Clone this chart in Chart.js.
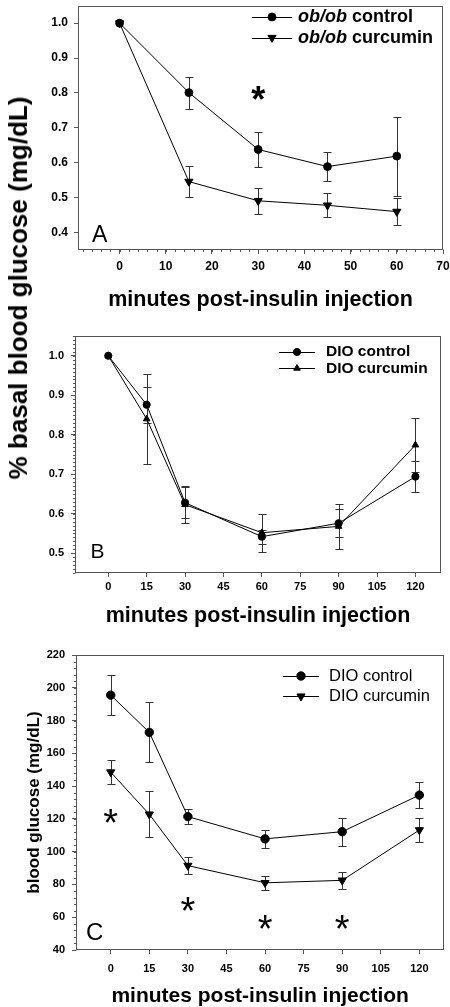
<!DOCTYPE html>
<html lang="en">
<head>
<meta charset="UTF-8" />
<title>Insulin tolerance</title>
<script src="https://cdn.jsdelivr.net/npm/chart.js"></script>
<style>
  body { margin: 0; background: #fff; }
  .page { position: relative; width: 450px; height: 1007px; overflow: hidden; font-family: "Liberation Sans", Arial, sans-serif; }
  canvas { position: absolute; left: 0; }
  #chartA { top: 0; }
  #chartB { top: 326px; }
  #chartC { top: 640px; }
  .ytitle {
    position: absolute; left: 18px; top: 288px;
    transform: translate(-50%, -50%) rotate(-90deg);
    font-weight: bold; font-size: 26px; line-height: 1;
    white-space: nowrap; color: #000;
  }
</style>
</head>
<body>
<div class="page">
  <canvas id="chartA" width="450" height="326"></canvas>
  <canvas id="chartB" width="450" height="314"></canvas>
  <canvas id="chartC" width="450" height="367"></canvas>
  <div class="ytitle">% basal blood glucose (mg/dL)</div>
</div>

<script>
  // panel A - ob/ob mice, fraction of basal glucose
  const timesA = [0, 15, 30, 45, 60];
  const obControl = [1.0, 0.801, 0.638, 0.589, 0.619];
  const obControlErr = [0, 0.046, 0.051, 0.042, 0.113];
  const obCurcumin = [1.0, 0.546, 0.491, 0.478, 0.460];
  const obCurcuminErr = [0, 0.044, 0.037, 0.034, 0.039];
  const starAx = [30];
  const starAy = [0.801];
  const ticksAx = [0, 10, 20, 30, 40, 50, 60, 70];
  const ticksAy = [0.4, 0.5, 0.6, 0.7, 0.8, 0.9, 1.0];

  // panel B - DIO mice, fraction of basal glucose
  const timesB = [0, 15, 30, 60, 90, 120];
  const dioControlB = [1.0, 0.876, 0.628, 0.542, 0.576, 0.694];
  const dioControlBErr = [0, 0.045, 0.040, 0.018, 0.035, 0.040];
  const dioCurcuminB = [1.0, 0.840, 0.623, 0.552, 0.568, 0.774];
  const dioCurcuminBErr = [0, 0.115, 0.047, 0.048, 0.056, 0.068];
  const ticksBx = [0, 15, 30, 45, 60, 75, 90, 105, 120];
  const ticksBy = [0.5, 0.6, 0.7, 0.8, 0.9, 1.0];

  // panel C - DIO mice, absolute glucose
  const timesC = [0, 15, 30, 60, 90, 120];
  const dioControlC = [195.5, 172.8, 121.4, 107.8, 112.2, 134.5];
  const dioControlCErr = [12, 18.3, 4.8, 5.5, 8.5, 7.8];
  const dioCurcuminC = [148.5, 122.8, 91.5, 81.0, 82.5, 113.2];
  const dioCurcuminCErr = [7.2, 14.1, 5.4, 4.4, 5.3, 7.2];
  const starCx = [0, 30, 60, 90];
  const starCy = [122, 68, 57.3, 57.3];
  const ticksCx = [0, 15, 30, 45, 60, 75, 90, 105, 120];
  const ticksCy = [40, 60, 80, 100, 120, 140, 160, 180, 200, 220];

  const FONT = '"Liberation Sans", Arial, sans-serif';
  const AXIS = '#555';
  Chart.defaults.font.family = FONT;
  Chart.defaults.color = '#000';

  const pts = (xs, ys) => xs.map((x, i) => ({ x: x, y: ys[i] }));

  function series(label, xs, ys, errs, style, r, rot) {
    return {
      label: label,
      data: pts(xs, ys),
      errors: errs,
      borderColor: '#000',
      borderWidth: 1,
      tension: 0,
      fill: false,
      pointStyle: style,
      pointRadius: r,
      pointRotation: rot || 0,
      pointBackgroundColor: '#000',
      pointBorderColor: '#000',
      pointBorderWidth: 1,
      clip: false
    };
  }

  // error bars drawn under the lines and markers
  const errorBars = {
    id: 'errorBars',
    beforeDatasetsDraw(chart) {
      const { ctx, scales: { x, y } } = chart;
      ctx.save();
      ctx.strokeStyle = '#333';
      ctx.lineWidth = 1;
      chart.data.datasets.forEach(ds => {
        ds.data.forEach((p, i) => {
          const e = ds.errors[i];
          if (!e) return;
          const px = Math.round(x.getPixelForValue(p.x)) + 0.5;
          const top = Math.round(y.getPixelForValue(p.y + e)) + 0.5;
          const bot = Math.round(y.getPixelForValue(p.y - e)) + 0.5;
          ctx.beginPath();
          ctx.moveTo(px, top); ctx.lineTo(px, bot);
          ctx.moveTo(px - 4, top); ctx.lineTo(px + 4, top);
          ctx.moveTo(px - 4, bot); ctx.lineTo(px + 4, bot);
          ctx.stroke();
        });
      });
      ctx.restore();
    }
  };

  // box around the plot area plus minor tick marks
  function framePlugin(minorX, minorY) {
    return {
      id: 'frame',
      afterDraw(chart) {
        const { ctx, chartArea: a, scales: { x, y } } = chart;
        ctx.save();
        ctx.strokeStyle = AXIS;
        ctx.lineWidth = 1;
        const l = Math.round(a.left) + 0.5, r = Math.round(a.right) - 0.5;
        const t = Math.round(a.top) + 0.5, b = Math.round(a.bottom) - 0.5;
        ctx.strokeRect(l, t, r - l, b - t);
        ctx.beginPath();
        if (minorX) {
          for (let k = Math.ceil(x.min / minorX); k * minorX <= x.max; k++) {
            const px = Math.round(x.getPixelForValue(k * minorX)) + 0.5;
            ctx.moveTo(px, b); ctx.lineTo(px, b + 2.5);
          }
        }
        if (minorY) {
          for (let k = Math.ceil(y.min / minorY - 1e-6); k * minorY <= y.max + 1e-9; k++) {
            const py = Math.round(y.getPixelForValue(k * minorY)) + 0.5;
            ctx.moveTo(l, py); ctx.lineTo(l - 2.5, py);
          }
        }
        ctx.stroke();
        ctx.restore();
      }
    };
  }

  // panel letter, significance stars and the line+marker legend
  function annotations(cfg) {
    return {
      id: 'annotations',
      afterDatasetsDraw(chart) {
        const { ctx, chartArea: a, scales: { x, y } } = chart;
        ctx.save();
        ctx.fillStyle = '#000';
        ctx.strokeStyle = '#000';

        ctx.font = cfg.letterFont;
        ctx.textAlign = 'left';
        ctx.textBaseline = 'alphabetic';
        ctx.fillText(cfg.letter, a.left + cfg.letterDx, a.bottom - cfg.letterDy);

        ctx.font = cfg.starFont;
        ctx.textAlign = 'center';
        const m = ctx.measureText('*');
        const shift = (m.actualBoundingBoxAscent - m.actualBoundingBoxDescent) / 2;
        cfg.starX.forEach((sx, i) => {
          ctx.fillText('*', x.getPixelForValue(sx), y.getPixelForValue(cfg.starY[i]) + shift);
        });

        const lg = cfg.legend;
        ctx.textAlign = 'left';
        ctx.textBaseline = 'middle';
        chart.data.datasets.forEach((ds, i) => {
          const ly = lg.top + i * lg.gap;
          ctx.lineWidth = 1;
          ctx.beginPath();
          ctx.moveTo(lg.x1, Math.round(ly) + 0.5);
          ctx.lineTo(lg.x2, Math.round(ly) + 0.5);
          ctx.stroke();
          Chart.helpers.drawPoint(ctx, {
            pointStyle: ds.pointStyle, radius: ds.pointRadius,
            rotation: ds.pointRotation, borderWidth: 1
          }, (lg.x1 + lg.x2) / 2, ly);
          let tx = lg.textX;
          lg.labels[i].forEach(seg => {
            ctx.font = (seg.italic ? 'italic ' : '') + lg.font;
            ctx.fillText(seg.text, tx, ly);
            tx += ctx.measureText(seg.text).width;
          });
        });
        ctx.restore();
      }
    };
  }

  function xAxis(c) {
    return {
      type: 'linear', min: c.min, max: c.max,
      afterBuildTicks: s => { s.ticks = c.ticks.map(v => ({ value: v })); },
      afterFit: s => { s.height = c.height; s.paddingLeft = 0; s.paddingRight = 0; },
      grid: { drawOnChartArea: false, drawTicks: true, tickLength: 4, tickColor: AXIS },
      border: { display: false },
      ticks: { font: c.font, color: '#000', padding: c.pad, autoSkip: false, maxRotation: 0 },
      title: {
        display: true, text: 'minutes post-insulin injection', color: '#000',
        font: c.titleFont, padding: { top: 0, bottom: c.titlePad }
      }
    };
  }

  function yAxis(c) {
    return {
      type: 'linear', min: c.min, max: c.max,
      afterBuildTicks: s => { s.ticks = c.ticks.map(v => ({ value: v })); },
      afterFit: s => { s.width = c.width; s.paddingTop = 0; s.paddingBottom = 0; },
      grid: { drawOnChartArea: false, drawTicks: true, tickLength: 4, tickColor: AXIS },
      border: { display: false },
      ticks: {
        font: c.font, color: '#000', padding: c.pad, autoSkip: false,
        callback: c.format
      },
      title: c.title || { display: false }
    };
  }

  function makeChart(id, datasets, padding, x, y, plugins) {
    return new Chart(document.getElementById(id), {
      type: 'line',
      data: { datasets: datasets },
      options: {
        responsive: false,
        animation: false,
        devicePixelRatio: 1,
        events: [],
        layout: { padding: padding },
        plugins: { legend: { display: false }, tooltip: { enabled: false } },
        scales: { x: x, y: y }
      },
      plugins: plugins
    });
  }

  // ---- A ----
  makeChart('chartA', [
    series('ob/ob control', timesA, obControl, obControlErr, 'circle', 3.9),
    series('ob/ob curcumin', timesA, obCurcumin, obCurcuminErr, 'triangle', 4.7, 180)
  ], { left: 0, top: 1, right: 7, bottom: 0 },
  xAxis({ min: -9, max: 70, ticks: ticksAx, height: 76, pad: 5,
          font: { size: 12, weight: 'bold' },
          titleFont: { size: 21.5, weight: 'bold', lineHeight: 1 }, titlePad: 15 }),
  yAxis({ min: 0.35, max: 1.05, ticks: ticksAy, width: 78, pad: 6,
          font: { size: 12, weight: 'bold' }, format: v => v.toFixed(1) }),
  [errorBars, framePlugin(2, 0), annotations({
    letter: 'A', letterFont: '23px ' + FONT, letterDx: 14, letterDy: 8,
    starFont: 'bold 36px ' + FONT, starX: starAx, starY: starAy,
    legend: {
      x1: 252, x2: 292, textX: 298, top: 17, gap: 20.7, font: 'bold 18px ' + FONT,
      labels: [
        [{ text: 'ob/ob', italic: true }, { text: ' control' }],
        [{ text: 'ob/ob', italic: true }, { text: ' curcumin' }]
      ]
    }
  })]);

  // ---- B ----
  makeChart('chartB', [
    series('DIO control', timesB, dioControlB, dioControlBErr, 'circle', 3.6),
    series('DIO curcumin', timesB, dioCurcuminB, dioCurcuminBErr, 'triangle', 3.8)
  ], { left: 0, top: 10, right: 9, bottom: 0 },
  xAxis({ min: -13, max: 130, ticks: ticksBx, height: 67, pad: 3,
          font: { size: 11, weight: 'bold' },
          titleFont: { size: 21.5, weight: 'bold', lineHeight: 1 }, titlePad: 13 }),
  yAxis({ min: 0.45, max: 1.05, ticks: ticksBy, width: 75, pad: 7,
          font: { size: 11, weight: 'bold' }, format: v => v.toFixed(1) }),
  [errorBars, framePlugin(0, 0.01), annotations({
    letter: 'B', letterFont: '21px ' + FONT, letterDx: 15.5, letterDy: 15,
    starFont: 'bold 36px ' + FONT, starX: [], starY: [],
    legend: {
      x1: 279, x2: 315, textX: 326, top: 26, gap: 16.3, font: 'bold 15.5px ' + FONT,
      labels: [[{ text: 'DIO control' }], [{ text: 'DIO curcumin' }]]
    }
  })]);

  // ---- C ----
  makeChart('chartC', [
    series('DIO control', timesC, dioControlC, dioControlCErr, 'circle', 4.2),
    series('DIO curcumin', timesC, dioCurcuminC, dioCurcuminCErr, 'triangle', 4.7, 180)
  ], { left: 0, top: 15, right: 2, bottom: 0 },
  xAxis({ min: -13.5, max: 129.7, ticks: ticksCx, height: 57, pad: 8,
          font: { size: 11, weight: 'bold' },
          titleFont: { size: 21, weight: 'bold', lineHeight: 1 }, titlePad: 0 }),
  yAxis({ min: 40, max: 220, ticks: ticksCy, width: 76, pad: 7,
          font: { size: 11, weight: 'bold' }, format: v => String(v),
          title: { display: true, text: 'blood glucose (mg/dL)', color: '#000',
                   font: { size: 17, weight: 'bold', lineHeight: 1 }, padding: { top: 26, bottom: 0 } } }),
  [errorBars, framePlugin(0, 4), annotations({
    letter: 'C', letterFont: '24px ' + FONT, letterDx: 10, letterDy: 10,
    starFont: '38px ' + FONT, starX: starCx, starY: starCy,
    legend: {
      x1: 283, x2: 319, textX: 329, top: 36, gap: 20.3, font: '16.5px ' + FONT,
      labels: [[{ text: 'DIO control' }], [{ text: 'DIO curcumin' }]]
    }
  })]);
</script>
</body>
</html>
